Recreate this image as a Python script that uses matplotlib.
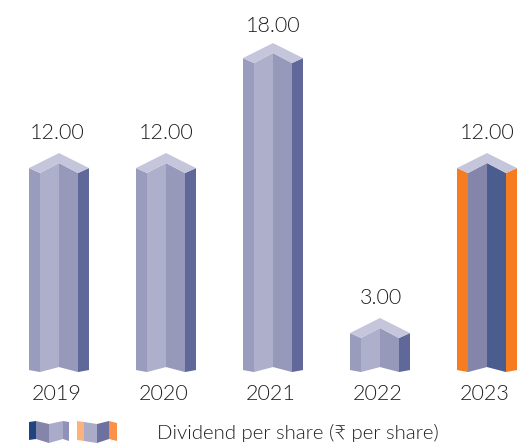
import matplotlib
matplotlib.use("Agg")
import matplotlib.pyplot as plt
from matplotlib.patches import Polygon

years = ["2019", "2020", "2021", "2022", "2023"]
dividend = [12.00, 12.00, 18.00, 3.00, 12.00]
legend_label = "Dividend per share (₹ per share)"

plain_colors = ["#9a9cbd", "#adafcb", "#9799ba", "#5f6899"]
top_color = "#c5c6dc"
last_colors = ["#f57c20", "#8385ab", "#4b5d8e", "#f57c20"]

plt.rcParams["font.family"] = ["Lato", "DejaVu Sans"]

W, H = 519, 446
fig = plt.figure(figsize=(W / 100, H / 100), dpi=100)
ax = fig.add_axes([0, 0, 1, 1])

# category spacing and value scale, in pixels
step = 107.0
unit = 18.33
x0 = 59.0
y0 = 383.0
ax.set_xlim(-x0 / step, (W - x0) / step)
ax.set_ylim((y0 - H) / unit, y0 / unit)
ax.axis("off")
base = 0.87  # bars do not start at zero in the original


def dx(p):
    return p / step


def dy(p):
    return p / unit


def px(x, y):
    return (x - x0) / step, (y0 - y) / unit


for i, v in enumerate(dividend):
    colors = last_colors if years[i] == "2023" else plain_colors
    # x of fold lines, y drop of each fold at top and bottom
    xs = [i - dx(30), i - dx(19), i, i + dx(19), i + dx(30)]
    top = [v - dy(5), v - dy(10), v, v - dy(10), v - dy(5)]
    bot = [base - dy(3), base - dy(5), base, base - dy(5), base - dy(3)]
    for k in range(4):
        pts = [(xs[k], bot[k]), (xs[k + 1], bot[k + 1]), (xs[k + 1], top[k + 1]), (xs[k], top[k])]
        ax.add_patch(Polygon(pts, closed=True, fc=colors[k], ec="none"))
    # roof of the column
    roof = [(xs[0], top[0]), (i, v + dy(10)), (xs[4], top[4]), (xs[3], top[3]), (i, v), (xs[1], top[1])]
    ax.add_patch(Polygon(roof, closed=True, fc=top_color, ec="none"))
    gap = 27 if v == max(dividend) else 30
    shift = -2 if i == 0 else 0.5
    ax.text(i + dx(shift), v + dy(gap), "%.2f" % v, ha="center", va="center", fontsize=15.5, color="#1f1f1f", weight=300)
    ax.text(i - dx(2), (y0 - 393.5) / unit, years[i], ha="center", va="center", fontsize=15.5, color="#1f1f1f", weight=300)

# legend swatches
sw1 = ["#1f447f", "#8385ab", "#a9abc9", "#8f92b6"]
sw2 = ["#fcb27c", "#a9abc9", "#6c719f", "#fb9146"]
for fold_x, t, b, cols in [
    ([29, 36, 49, 63, 69], [422, 421, 424, 421, 422], [440, 439, 443, 439, 441], sw1),
    ([77, 84, 97, 109, 117], [421, 422, 424, 421, 423], [440, 441, 443, 439, 441], sw2),
]:
    for k in range(4):
        pts = [px(fold_x[k], b[k]), px(fold_x[k + 1], b[k + 1]), px(fold_x[k + 1], t[k + 1]), px(fold_x[k], t[k])]
        ax.add_patch(Polygon(pts, closed=True, fc=cols[k], ec="none"))

ax.text(*px(157, 433), legend_label, ha="left", va="center", fontsize=14.7, color="#222222", weight=300)

fig.savefig("out.png", dpi=100)
